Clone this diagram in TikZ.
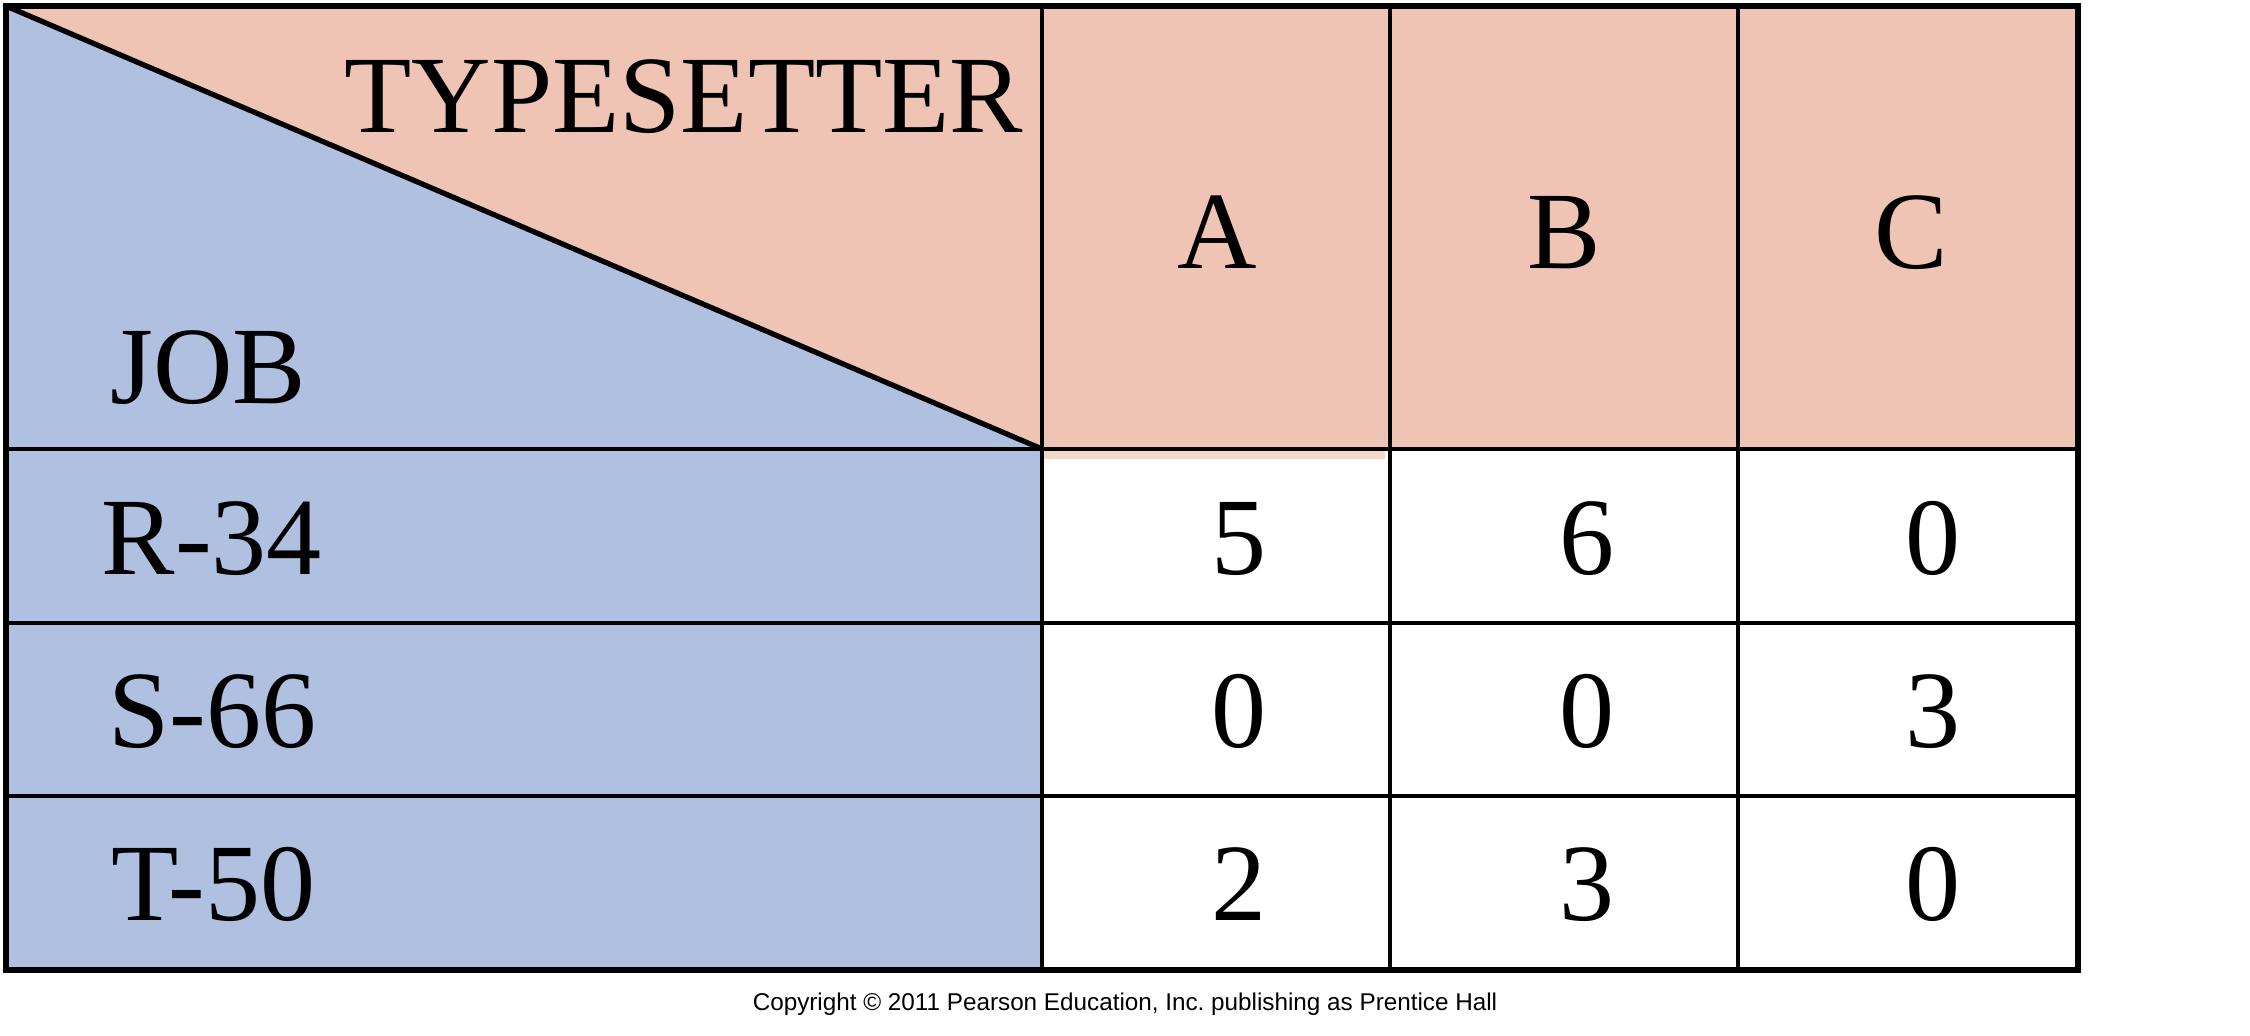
\documentclass[tikz,border=0pt]{standalone}
\usepackage{fontspec}
\setmainfont{Liberation Serif}
\newfontfamily\arialfont{Liberation Sans}
\definecolor{headpink}{RGB}{240,196,180}
\definecolor{jobblue}{RGB}{176,192,224}

\begin{document}
\begin{tikzpicture}[x=0.01cm, y=-0.01cm,
		grid/.style={draw=black, line width=1.15pt},
		frame/.style={draw=black, line width=1.6pt},
		big/.style={font=\fontsize{31.3}{36}\selectfont, inner sep=0pt}]
		    \useasboundingbox[fill=white] (0,0) rectangle (2250,1036);
		    \coordinate (tl) at (6,6);
		    \coordinate (corner) at (1042,449);
		    % colour fills
		    \fill[headpink] (tl) rectangle (2078,449);
		    \fill[jobblue] (6,449) rectangle (1042,970);
		    \fill[jobblue] (tl) -- (corner) -- (6,449) -- cycle;
		    \fill[headpink!70] (1044,451) rectangle (1385,459);
		    % grid
		    \foreach \y in {449,623,796} {
		       \draw[grid] (6,\y) -- (2078,\y);
		    }
		    \foreach \x in {1042,1390,1738} {
		       \draw[grid] (\x,6) -- (\x,970);
		    }
		    \draw[frame] (tl) rectangle (2078,970);
		    \draw[line width=1.5pt] (tl) -- (corner);
		    % headings
		    \node[big, anchor=base east] (typesetter) at (1024,132) {TYPESETTER};
		    \node[big, anchor=base west] (job) at (110,403) {JOB};
		    \node[big, anchor=base] (A) at (1217,268) {A};
		    \node[big, anchor=base] (B) at (1564,268) {B};
		    \node[big, anchor=base] (C) at (1911,268) {C};
		    % rows
		    \foreach \lbl/\lx/\y/\a/\b/\c [count=\i] in {R-34/101/574/5/6/0, S-66/108/747/0/0/3, T-50/111/920/2/3/0} {
		       \node[big, anchor=base west] (row\i) at (\lx,\y) {\lbl};
		       \node[big, anchor=base] (a\i) at (1239,\y) {\a};
		       \node[big, anchor=base] (b\i) at (1587,\y) {\b};
		       \node[big, anchor=base] (c\i) at (1933,\y) {\c};
		    }
		    \node[font=\arialfont\fontsize{6.9}{8}\selectfont, inner sep=0pt, anchor=base] (copy) at (1125,1010) {Copyright \textcopyright{} 2011 Pearson Education, Inc.\ publishing as Prentice Hall};
		\end{tikzpicture}
\end{document}
